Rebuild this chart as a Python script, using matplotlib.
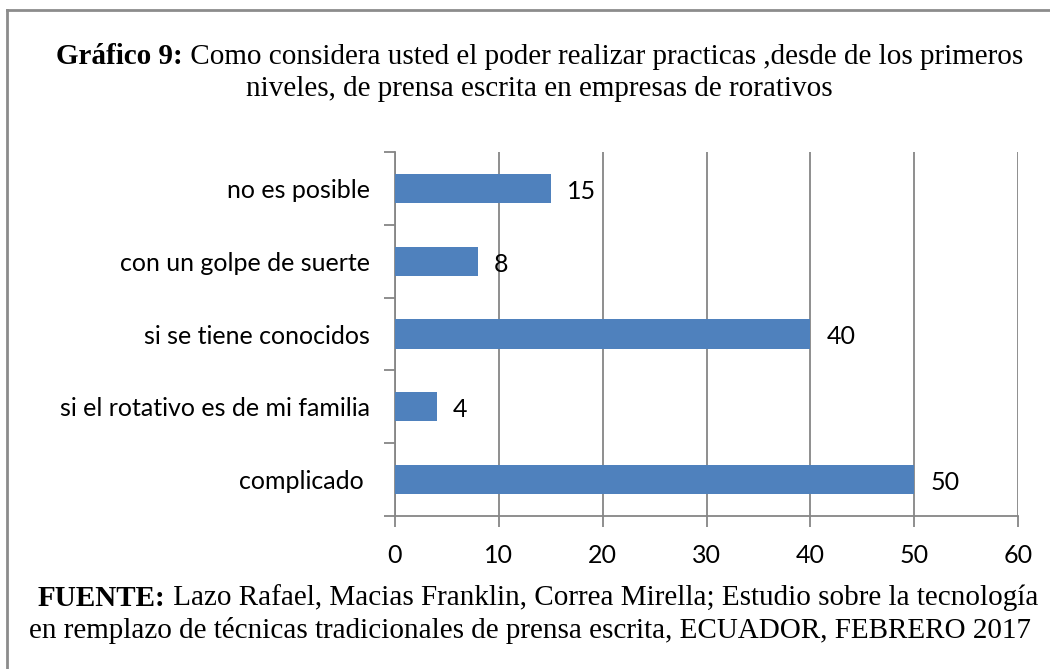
import matplotlib
matplotlib.use("Agg")
import matplotlib.pyplot as plt
from matplotlib.lines import Line2D

categories = ["complicado ", "si el rotativo es de mi familia", "si se tiene conocidos",
              "con un golpe de suerte", "no es posible"]
values = [50, 4, 40, 8, 15]
xticks = [0, 10, 20, 30, 40, 50, 60]

title_bold = "Gráfico 9:"
title_rest1 = " Como considera usted el poder realizar practicas ,desde de los primeros"
title_line2 = "niveles, de prensa escrita en empresas de rorativos"
foot_bold = "FUENTE:"
foot_rest1 = " Lazo Rafael, Macias Franklin, Correa Mirella; Estudio sobre la tecnología"
foot_line2 = "en remplazo de técnicas tradicionales de prensa escrita, ECUADOR, FEBRERO 2017"

W, H = 1050, 669
fig = plt.figure(figsize=(W / 100, H / 100), dpi=100)
label_font = "Lato"
lfs = 18
serif = "Liberation Serif"
grey = "#868686"
bar_color = "#4F81BD"

ax = fig.add_axes([395 / W, 1 - 516 / H, (1018 - 395) / W, (516 - 152) / H])
y = list(range(len(categories)))
ax.barh(y, values, height=0.4, color=bar_color, zorder=3)
ax.set_xlim(0, 60)
ax.set_ylim(-0.5, len(categories) - 0.5)
ax.set_xticks(xticks)
ax.set_xticklabels([str(t) for t in xticks], fontfamily=label_font, fontsize=lfs)
ax.set_yticks(y)
ax.set_yticklabels(categories, fontfamily=label_font, fontsize=lfs)
ax.set_yticks([i - 0.5 for i in range(len(categories) + 1)], minor=True)
ax.tick_params(axis="y", which="major", length=0, pad=18)
ax.tick_params(axis="y", which="minor", length=8, width=1.3, color=grey, direction="out")
ax.tick_params(axis="x", which="major", length=8, width=1.3, color=grey, direction="out", pad=12.5)
ax.grid(axis="x", color=grey, linewidth=1.3, zorder=0)
for s in ["top", "right"]:
    ax.spines[s].set_visible(False)
for s in ["left", "bottom"]:
    ax.spines[s].set_color(grey)
    ax.spines[s].set_linewidth(1.3)

for yi, v in zip(y, values):
    ax.annotate(str(v), xy=(v, yi), xytext=(16, -3), textcoords="offset pixels",
                ha="left", va="center", fontfamily=label_font, fontsize=lfs)

# border lines
fig.add_artist(Line2D([7 / W, 1], [1 - 10 / H, 1 - 10 / H], transform=fig.transFigure,
                      color="#8c8c8c", linewidth=2))
fig.add_artist(Line2D([7 / W, 7 / W], [0, 1 - 10 / H], transform=fig.transFigure,
                      color="#8c8c8c", linewidth=2))

fs_serif = 21


def two_part_line(bold, rest, cx, cy):
    t1 = fig.text(0, 0, bold, fontfamily=serif, fontweight="bold", fontsize=fs_serif,
                  ha="left", va="center")
    t2 = fig.text(0, 0, rest, fontfamily=serif, fontsize=fs_serif, ha="left", va="center")
    fig.canvas.draw()
    r = fig.canvas.get_renderer()
    w1 = t1.get_window_extent(r).width
    w2 = t2.get_window_extent(r).width
    x0 = cx - (w1 + w2) / 2
    t1.set_position((x0 / W, 1 - cy / H))
    t2.set_position(((x0 + w1) / W, 1 - cy / H))


two_part_line(title_bold, title_rest1, 540, 57)
fig.text(539 / W, 1 - 89 / H, title_line2, fontfamily=serif, fontsize=fs_serif,
         ha="center", va="center")
two_part_line(foot_bold, foot_rest1, 538, 598)
fig.text(530 / W, 1 - 631 / H, foot_line2, fontfamily=serif, fontsize=fs_serif,
         ha="center", va="center")

fig.savefig("out.png", dpi=100)
